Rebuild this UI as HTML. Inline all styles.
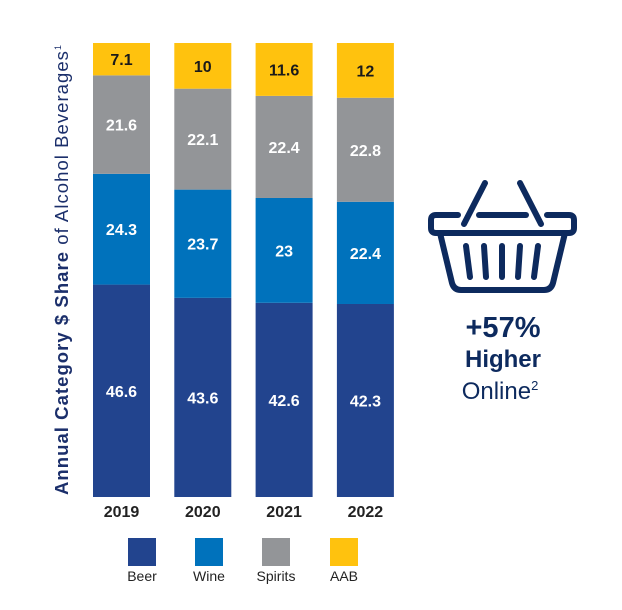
<!DOCTYPE html>
<html><head><meta charset="utf-8"><style>
body{margin:0;background:#fff;font-family:"Liberation Sans",sans-serif;}
svg{display:block}
</style></head><body>
<svg width="622" height="610" viewBox="0 0 622 610">
<g id="bars"></g>
<g id="years"></g>
<text transform="translate(68,270) rotate(-90)" text-anchor="middle" font-size="18.5" fill="#1b2f6b" textLength="450" lengthAdjust="spacing"><tspan font-weight="bold">Annual Category $ Share</tspan> of Alcohol Beverages<tspan font-size="9" dy="-7">1</tspan></text>
<g id="legend"></g>
<g fill="none" stroke="#0d2a5e" stroke-width="6" stroke-linecap="round" stroke-linejoin="round">
<line x1="485" y1="183" x2="464" y2="224"/>
<line x1="520" y1="183" x2="541" y2="224"/>
<path d="M458 215 H436 Q431 215 431 220 V228 Q431 233 436 233 H569 Q574 233 574 228 V220 Q574 215 569 215 H547"/>
<line x1="479" y1="215" x2="526" y2="215"/>
<path d="M440 233 L452 283 Q454 290 461 290 H544 Q551 290 553 283 L565 233"/>
<line x1="466" y1="246" x2="470" y2="277"/>
<line x1="484" y1="246" x2="486" y2="277"/>
<line x1="502" y1="246" x2="502" y2="277"/>
<line x1="520" y1="246" x2="518" y2="277"/>
<line x1="538" y1="246" x2="534" y2="277"/>
</g>
<text x="503" y="337" text-anchor="middle" font-size="29" font-weight="bold" fill="#0d2a5e">+57%</text>
<text x="503" y="367" text-anchor="middle" font-size="24" font-weight="bold" fill="#0d2a5e">Higher</text>
<text x="500" y="399" text-anchor="middle" font-size="24" fill="#0d2a5e">Online<tspan font-size="13" dy="-9">2</tspan></text>
</svg>
<script>
const years=["2019","2020","2021","2022"];
const beer=[46.6,43.6,42.6,42.3];
const wine=[24.3,23.7,23,22.4];
const spirits=[21.6,22.1,22.4,22.8];
const aab=[7.1,10,11.6,12];
const seriesNames=["Beer","Wine","Spirits","AAB"];
(function(){
const NS="http://www.w3.org/2000/svg";
const colors=["#22448e","#0072bc","#939598","#ffc20e"];
const textColors=["#fff","#fff","#fff","#1a1a1a"];
const series=[beer,wine,spirits,aab];
const x0=93,step=81.3,bw=57,plotTop=43,plotBottom=497;
const gB=document.getElementById('bars'),gY=document.getElementById('years'),gL=document.getElementById('legend');
function mk(t,a,p){const e=document.createElementNS(NS,t);for(const k in a)e.setAttribute(k,a[k]);p.appendChild(e);return e;}
years.forEach((yr,i)=>{
  const total=series.reduce((s,a)=>s+a[i],0);
  const scale=(plotBottom-plotTop)/total;
  let y=plotBottom;
  const x=x0+i*step;
  series.forEach((a,j)=>{
    const h=a[i]*scale;y-=h;
    const r=mk('rect',{x:x,y:y,width:bw,height:h,fill:colors[j]},gB);
    
    
    const t=mk('text',{x:x+bw/2,y:y+h/2+6,'text-anchor':'middle','font-size':16,'font-weight':'bold',fill:textColors[j]},gB);
    t.textContent=a[i];
    
    
  });
  const yl=mk('text',{x:x+bw/2,y:517,'text-anchor':'middle','font-size':16,'font-weight':'bold',fill:'#222'},gY);
  yl.textContent=yr;
  
  
});
const lx=[128,195,262,330];
seriesNames.forEach((n,j)=>{
  const r=mk('rect',{x:lx[j],y:538,width:28,height:28,fill:colors[j]},gL);
  
  
  const t=mk('text',{x:lx[j]+14,y:581,'text-anchor':'middle','font-size':14,fill:'#222'},gL);
  t.textContent=n;
  
  
});
})();
</script>
</body></html>
